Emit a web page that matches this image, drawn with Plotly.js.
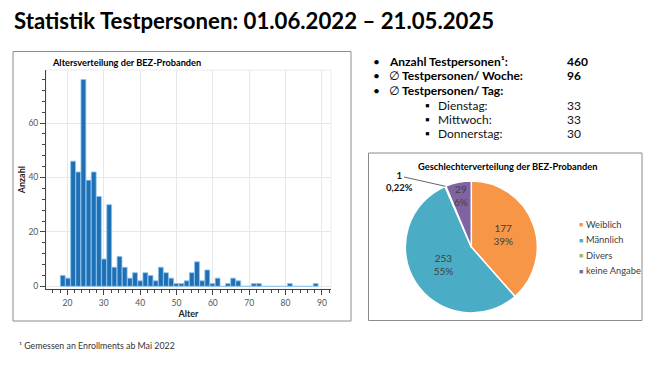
<!DOCTYPE html>
<html><head><meta charset="utf-8">
<script src="https://cdn.plot.ly/plotly-3.0.1.min.js"></script>
<style>html,body{margin:0;padding:0;background:#fff}#chart{width:651px;height:367px}</style>
</head><body><div id="chart"></div>
<script>
// ---- data ----
const pageTitle = 'Statistik Testpersonen: 01.06.2022 – 21.05.2025';
const histTitle = 'Altersverteilung der BEZ-Probanden';
const binStart = 18;
const binWidth = 1.42;
const ageCounts = [4,3,46,42,76,39,42,33,10,30,7,11,7,3,5,2,5,4,2,7,5,3,1,1,2,5,9,2,6,1,3,0,1,3,2,0,0,1,1,0,0,0,0,0,1,0,0,0,0,1];
const statLabels = ['Anzahl Testpersonen¹:', '∅ Testpersonen/ Woche:', '∅ Testpersonen/ Tag:'];
const statValues = ['460', '96', ''];
const dayLabels = ['Dienstag:', 'Mittwoch:', 'Donnerstag:'];
const dayValues = ['33', '33', '30'];
const pieTitle = 'Geschlechterverteilung der BEZ-Probanden';
const genderLabels = ['Weiblich', 'Männlich', 'Divers', 'keine Angabe'];
const genderValues = [177, 253, 1, 29];
const genderPct = ['39%', '55%', '0,22%', '6%'];
const genderColors = ['#F79646', '#4BACC6', '#9BBB59', '#8064A2'];
const footnote = '¹ Gemessen an Enrollments ab Mai 2022';

// ---- helpers ----
const W = 651, H = 367;
const px = x => x / W;
const py = y => 1 - y / H;
const FONT = 'Lato, "Noto Sans", sans-serif';
const SYM = '<span style="font-family:\'DejaVu Sans\';font-weight:normal">∅</span>';

const binCenters = ageCounts.map((_, i) => binStart + binWidth * (i + 0.5));

const hist = {
  type: 'bar', x: binCenters, y: ageCounts, width: binWidth * 0.94,
  marker: {color: '#1f6fb5', line: {color: '#8cc4ee', width: 0.8}},
  xaxis: 'x', yaxis: 'y', hoverinfo: 'x+y', showlegend: false
};

const pieCx = 471.3, pieCy = 247, pieR = 66;
// slices whose label sits on its own (too narrow for inside text)
const ownLabel = [false, false, true, true];
const pie = {
  type: 'pie', labels: genderLabels, values: genderValues, sort: false,
  direction: 'clockwise', rotation: 0,
  marker: {colors: genderColors, line: {color: '#ffffff', width: 1.5}},
  customdata: genderPct,
  texttemplate: ownLabel.map(o => o ? '' : '%{value}<br>%{customdata}'),
  textposition: 'inside', insidetextorientation: 'horizontal',
  insidetextfont: {family: FONT, size: 10, color: '#404040'},
  domain: {x: [px(pieCx - pieR), px(pieCx + pieR)], y: [py(pieCy + pieR), py(pieCy - pieR)]},
  showlegend: false, hoverinfo: 'label+value'
};

const annotations = [];
const shapes = [];
const txt = (x, y, text, size, opts = {}) => annotations.push(Object.assign({
  xref: 'paper', yref: 'paper', x: px(x), y: py(y), text, showarrow: false,
  xanchor: 'left', yanchor: 'middle',
  font: {family: FONT, size, color: opts.color || '#000', weight: opts.bold ? 'bold' : 'normal'}
}, opts.extra || {}));

txt(12, 20, pageTitle, 22.2, {bold: true});
txt(50, 62, histTitle, 9.2, {bold: true});

statLabels.forEach((l, i) => {
  const y = [61.7, 75.3, 90.3][i];
  txt(371, y, '•', 12);
  txt(387, y, l.replace('∅', SYM), 12, {bold: true});
  if (statValues[i]) txt(565, y, statValues[i], 12, {bold: true});
});
dayLabels.forEach((l, i) => {
  const y = 105 + i * 14.2;
  txt(423, y, '▪', 12);
  txt(436, y, l, 12, {color: '#111'});
  txt(565, y, dayValues[i], 12, {color: '#111'});
});

txt(508, 167, pieTitle, 9.3, {bold: true, extra: {xanchor: 'center'}});
genderLabels.forEach((l, i) => {
  const y = 224 + i * 15.6;
  txt(577, y, '■', 7, {color: genderColors[i]});
  txt(584, y, l, 9.3, {color: '#404040'});
});

// labels for narrow slices, positioned from the data angles
const total = genderValues.reduce((a, b) => a + b, 0);
const midAngle = i => 2 * Math.PI * (genderValues.slice(0, i).reduce((a, b) => a + b, 0) + genderValues[i] / 2) / total;
// keine Angabe: inside near the rim
{
  const a = midAngle(3), r = pieR * 0.8;
  txt(pieCx + r * Math.sin(a), pieCy - r * Math.cos(a), genderValues[3] + '<br>' + genderPct[3], 10,
      {color: '#404040', extra: {xanchor: 'center', align: 'center'}});
}
// Divers: outside with leader line
{
  const a = midAngle(2);
  const ex = pieCx + pieR * Math.sin(a), ey = pieCy - pieR * Math.cos(a);
  shapes.push({type: 'line', xref: 'paper', yref: 'paper', x0: px(404), y0: py(177), x1: px(ex), y1: py(ey), line: {color: '#404040', width: 0.8}});
  txt(399.5, 181, '<b>' + genderValues[2] + '</b><br><b>' + genderPct[2] + '</b>', 9.5, {color: '#111', extra: {xanchor: 'center', align: 'center'}});
}

txt(17, 345, footnote, 8.8, {color: '#333'});

// panel borders
shapes.push({type: 'rect', xref: 'paper', yref: 'paper', x0: px(13), x1: px(351), y0: py(321), y1: py(51.5), line: {color: '#8c8c8c', width: 1}});
shapes.push({type: 'rect', xref: 'paper', yref: 'paper', x0: px(368.5), x1: px(642), y0: py(320.5), y1: py(153), line: {color: '#8c8c8c', width: 1}});
// plot frame outline (light)
shapes.push({type: 'rect', xref: 'paper', yref: 'paper', x0: px(46), x1: px(331), y0: py(289.3), y1: py(70), line: {color: '#ececec', width: 1}, layer: 'below'});

const layout = {
  width: W, height: H, margin: {l: 0, r: 0, t: 0, b: 0},
  paper_bgcolor: '#fff', plot_bgcolor: '#fff', separators: ',.',
  font: {family: FONT},
  xaxis: {
    domain: [px(46), px(331)], range: [14.1, 92.5], anchor: 'y',
    tick0: 0, dtick: 10, ticks: 'outside', ticklen: 5, tickcolor: '#444', tickwidth: 1,
    showline: true, linecolor: '#444', linewidth: 1, zeroline: false,
    showgrid: true, gridcolor: '#e8e8e8',
    minor: {dtick: 2, ticks: 'outside', ticklen: 3, tickcolor: '#444', showgrid: false},
    tickfont: {size: 8.5, color: '#555', family: FONT},
    title: {text: 'Alter', font: {size: 9, weight: 'bold', color: '#222', family: FONT}, standoff: 4}
  },
  yaxis: {
    domain: [py(289.3), py(70)], range: [-1.1, 79.5], anchor: 'x',
    tick0: 0, dtick: 20, ticks: 'outside', ticklen: 5, tickcolor: '#444', tickwidth: 1,
    showline: true, linecolor: '#444', linewidth: 1, zeroline: false,
    showgrid: true, gridcolor: '#e8e8e8',
    minor: {dtick: 4, ticks: 'outside', ticklen: 3, tickcolor: '#444', showgrid: false},
    tickfont: {size: 8.5, color: '#555', family: FONT},
    title: {text: 'Anzahl', font: {size: 9, weight: 'bold', color: '#222', family: FONT}, standoff: 1}
  },
  annotations, shapes
};

Plotly.newPlot('chart', [hist, pie], layout, {displayModeBar: false, staticPlot: true});
</script>
</body></html>
